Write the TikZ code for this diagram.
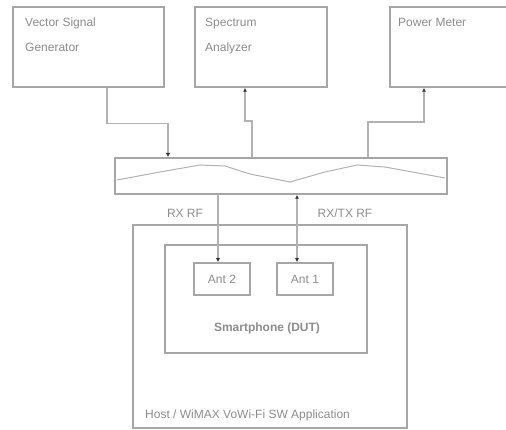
\documentclass[tikz,border=0pt]{standalone}
\usepackage{fontspec}
\setmainfont{Liberation Sans}
\usetikzlibrary{arrows.meta}

\tikzset{
  box/.style={draw=black!35, line width=1.5pt, inner sep=0pt},
  txt/.style={text=black!45, font=\fontsize{12}{25}\selectfont, align=left, inner sep=0pt},
  link/.style={draw=black!30, line width=1.5pt},
  tip/.style={-{Latex[length=4pt,width=4pt,black!80]}},
}

\begin{document}
\begin{tikzpicture}[x=1pt, y=-1pt]
  \clip (0,0) rectangle (506,430);

  % instruments
  \node[box, minimum width=151pt, minimum height=80pt] (vsg) at (88.5,47) {};
  \node[box, minimum width=132pt, minimum height=80pt] (sa) at (261,47) {};
  \node[box, minimum width=132pt, minimum height=80pt] (pm) at (456,47) {};
  \node[txt, anchor=north west] (vsgtxt) at (25,18) {Vector Signal\\Generator};
  \node[txt, anchor=north west] (satxt) at (205,18) {Spectrum\\Analyzer};
  \node[txt, anchor=north west] (pmtxt) at (398,18) {Power Meter};

  % splitter
  \node[box, minimum width=332pt, minimum height=36pt] (bar) at (281,176) {};
  \draw[draw=black!30, line width=1pt] (117,180) -- (160,172) -- (200,165) -- (225,166)
    -- (250,174) -- (290,182) -- (325,172) -- (357,165) -- (385,167) -- (445,178);

  % DUT side
  \node[box, minimum width=274pt, minimum height=203pt] (host) at (270,326.5) {};
  \node[box, minimum width=202pt, minimum height=108pt] (dut) at (266,299) {};
  \node[box, minimum width=56pt, minimum height=32pt] (ant2) at (222,279) {};
  \node[box, minimum width=56pt, minimum height=32pt] (ant1) at (305,279) {};
  \node[txt] (ant2txt) at (ant2) {Ant 2};
  \node[txt] (ant1txt) at (ant1) {Ant 1};
  \node[txt, font=\fontsize{12}{14}\selectfont\bfseries] (duttxt) at (267,328) {Smartphone (DUT)};
  \node[txt, anchor=south west] (hosttxt) at (145,421) {Host / WiMAX VoWi-Fi SW Application};

  % connections
  \draw[link, tip] ([xshift=18.5pt]vsg.south) -- ++(0,36) -| ([xshift=-113pt]bar.north);
  \draw[link, tip] ([xshift=-29pt]bar.north) -- ++(0,-36) -- ++(-7,0) -- ([xshift=-16pt]sa.south);
  \draw[link, tip] ([xshift=87pt]bar.north) |- ++(56,-35) -- ([xshift=-32pt]pm.south);
  \draw[link, tip] ([xshift=-63pt]bar.south) -- ([xshift=-4pt]ant2.north);
  \draw[link, {Latex[length=4pt,width=4pt,black!80]}-{Latex[length=4pt,width=4pt,black!80]}]
    ([xshift=16pt]bar.south) -- ([xshift=-8pt]ant1.north);

  \node[txt] (rxtxt) at (185,213) {RX RF};
  \node[txt] (rxtxtxt) at (345,213) {RX/TX RF};
\end{tikzpicture}
\end{document}
